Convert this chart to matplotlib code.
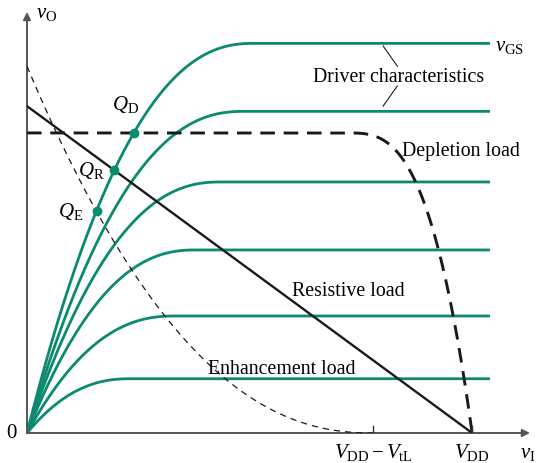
import numpy as np
import matplotlib
matplotlib.use('Agg')
import matplotlib.pyplot as plt

# units: VDD = 5 on both axes
VDD = 5.0
VTL = 1.11

# driver curves: saturation level and knee voltage (top curve first)
drv_level = [5.96, 4.92, 3.84, 2.80, 1.79, 0.83]
drv_knee = [2.54, 2.43, 2.17, 1.89, 1.66, 1.16]
drv_end = 5.2
drv_shape = 2.3

# depletion load: flat level, width of the bend near VDD
dep_level = 4.59
dep_width = 1.40
dep_shape = 3.0

# enhancement load: value at vI = 0
enh_start = 5.61
enh_shape = 2.25

# resistive load from (0, VDD) to (VDD, 0)
res_x = [0.0, VDD]
res_y = [VDD, 0.0]

green = '#0a8a6e'
plt.rcParams['mathtext.fontset'] = 'custom'
plt.rcParams['mathtext.rm'] = 'Liberation Serif'
plt.rcParams['mathtext.it'] = 'Liberation Serif:italic'
plt.rcParams['font.family'] = ['Liberation Serif', 'DejaVu Serif']

fig = plt.figure(figsize=(5.44, 4.64), dpi=100)
ax = fig.add_axes([27 / 544, 30 / 464, 503 / 544, 421 / 464])
xmax, ymax = 5.65, 6.44
ax.set_xlim(0, xmax)
ax.set_ylim(0, ymax)
ax.axis('off')


def driver(x, level, knee):
    u = np.clip(x / knee, 0, 1)
    return level * (1 - (1 - u) ** drv_shape)


def depletion(x):
    v = np.clip((VDD - x) / dep_width, 0, 1)
    return dep_level * (1 - (1 - v) ** dep_shape)


def enhancement(x):
    u = np.clip(x / (VDD - VTL), 0, 1)
    return enh_start * (1 - u) ** enh_shape


xs = np.linspace(0, drv_end, 800)
for lev, kn in zip(drv_level, drv_knee):
    ax.plot(xs, driver(xs, lev, kn), color=green, lw=2.0, solid_capstyle='butt', zorder=3)

ax.plot(res_x, res_y, color='#1a1a1a', lw=1.7, zorder=4)

xd = np.linspace(0, VDD, 800)
ax.plot(xd, depletion(xd), color='#1a1a1a', lw=2.1, dashes=(5, 3), zorder=4)

xe = np.linspace(0, VDD - VTL, 600)
ax.plot(xe, enhancement(xe), color='#1a1a1a', lw=0.9, dashes=(5, 4), zorder=4)

fs = 15
lfs = 14.3

# operating points on the top driver curve
top = driver(xs, drv_level[0], drv_knee[0])
q_loads = [depletion(xs), np.interp(xs, res_x, res_y), enhancement(xs)]
q_names = [r'$Q_{\mathrm{D}}$', r'$Q_{\mathrm{R}}$', r'$Q_{\mathrm{E}}$']
q_off = [(0.06, 0.45), (-0.11, 0.0), (-0.15, 0.0)]
for load, name, off in zip(q_loads, q_names, q_off):
    m = xs < 1.8
    i = np.argmin(np.abs(top[m] - load[m]))
    ax.plot(xs[m][i], top[m][i], 'o', color=green, ms=6, zorder=6)
    ax.text(xs[m][i] + off[0], top[m][i] + off[1], name, fontsize=fs,
            ha='right', va='center', zorder=6)

# axes with arrows
ax.annotate('', xy=(xmax, 0), xytext=(0, 0),
            arrowprops=dict(arrowstyle='-|>', color='#555555', lw=1.4,
                            mutation_scale=11, shrinkA=0, shrinkB=0))
ax.annotate('', xy=(0, ymax), xytext=(0, 0),
            arrowprops=dict(arrowstyle='-|>', color='#555555', lw=1.4,
                            mutation_scale=11, shrinkA=0, shrinkB=0))
for xt in [VDD - VTL, VDD]:
    ax.plot([xt, xt], [-0.11, 0.11], color='#333333', lw=1.0, zorder=5)

ax.text(0.10, 6.43, r'$v_{\mathrm{O}}$', fontsize=fs, ha='left', va='center')
ax.text(5.255, 5.93, r'$v_{\mathrm{GS}}$', fontsize=fs, ha='left', va='center')
ax.text(-0.12, 0.0, '0', fontsize=fs, ha='right', va='center')
ax.text(VDD - VTL, -0.28, r'$V_{\mathrm{DD}} - V_{\mathrm{tL}}$', fontsize=fs,
        ha='center', va='center')
ax.text(VDD, -0.28, r'$V_{\mathrm{DD}}$', fontsize=fs, ha='center', va='center')
ax.text(5.54, -0.30, r'$v_{\mathrm{I}}$', fontsize=fs, ha='left', va='center')

ax.text(3.21, 5.45, 'Driver characteristics', fontsize=lfs, ha='left', va='center')
ax.plot([4.0, 4.16], [5.92, 5.61], color='#1a1a1a', lw=0.8)
ax.plot([4.16, 4.0], [5.31, 5.0], color='#1a1a1a', lw=0.8)
ax.text(4.21, 4.32, 'Depletion load', fontsize=lfs, ha='left', va='center')
ax.text(2.98, 2.18, 'Resistive load', fontsize=lfs, ha='left', va='center')
ax.text(2.03, 0.99, 'Enhancement load', fontsize=lfs, ha='left', va='center', zorder=7)

fig.savefig('out.png', dpi=100)
